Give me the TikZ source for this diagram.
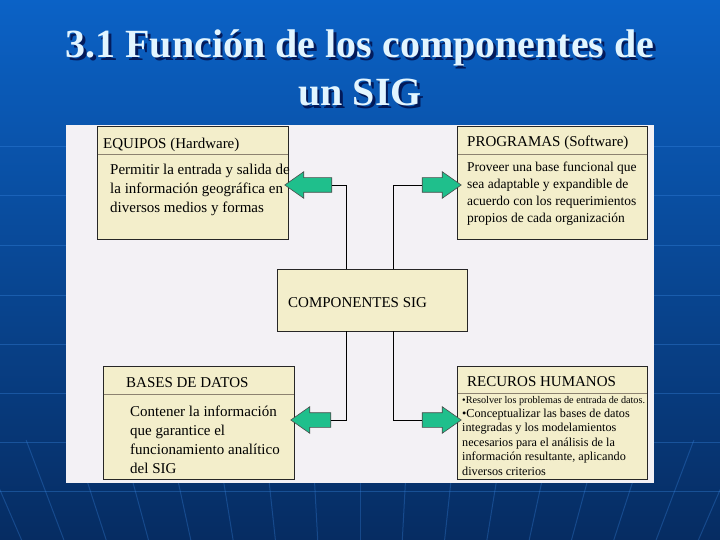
\documentclass[tikz,border=0pt]{standalone}
\usepackage{fontspec}
\setmainfont{Liberation Serif}
\usetikzlibrary{shapes.arrows}
\definecolor{bgtop}{HTML}{0B62C6}
\definecolor{bgmid}{HTML}{0950A6}
\definecolor{bgbot}{HTML}{062C62}
\definecolor{gridcol}{HTML}{3C8AE6}
\definecolor{panelcol}{HTML}{F3F1F5}
\definecolor{cream}{HTML}{F3EECB}
\definecolor{divcol}{HTML}{8C8270}
\definecolor{arrowcol}{HTML}{1FBF8C}
\definecolor{titlecol}{HTML}{E2F5FF}
\begin{document}
\begin{tikzpicture}[x=1pt,y=-1pt,
  box/.style={draw=black!85,line width=0.8pt,fill=cream,inner sep=0pt,outer sep=0pt,anchor=north west},
  divider/.style={draw=divcol,line width=0.9pt},
  head/.style={anchor=base west,inner sep=0pt,font=\fontsize{15}{18}\selectfont},
  body/.style={anchor=base west,inner sep=0pt,align=left},
  blockarrow/.style={single arrow,draw=black!70,line width=0.6pt,fill=arrowcol,inner xsep=0pt,inner ysep=7pt,
     single arrow head extend=6pt,single arrow tip angle=70,minimum height=40pt,outer sep=0pt},
  conn/.style={draw=black,line width=0.8pt},
  gridline/.style={draw=gridcol,line width=1pt,opacity=0.35},
  titlefont/.style={font=\fontsize{40}{48}\selectfont\bfseries,align=center,inner sep=0pt,anchor=base}]
\useasboundingbox (0,0) rectangle (720,540);
% background
\shade[top color=bgtop,middle color=bgmid,bottom color=bgbot] (0,0) rectangle (720,540);
\foreach \yy in {147,196,245,295,344,393,442,491}
  \draw[gridline] (0,\yy) -- (720,\yy);
\foreach \k in {-9,...,9}
  \draw[gridline,opacity=0.3] ({360+47.7*\k},440) -- ({360+42.3*\k},540);
% title (base anchor = baseline of the last line)
\node[titlefont,text=black!80!blue,opacity=0.7] (tshadow) at (362.5,108.5) {3.1 Función de los componentes de\\un SIG};
\node[titlefont,text=titlecol] (title) at (360,106) {3.1 Función de los componentes de\\un SIG};
% panel
\fill[panelcol] (66,125) rectangle (654,483);
% boxes
\node[box,minimum width=191pt,minimum height=113pt] (eq) at (97,126) {};
\node[box,minimum width=190pt,minimum height=113pt] (prog) at (457,126) {};
\node[box,minimum width=190pt,minimum height=62pt] (comp) at (277,269) {};
\node[box,minimum width=191pt,minimum height=113pt] (bd) at (103,366) {};
\node[box,minimum width=190pt,minimum height=113pt] (rh) at (457,366) {};
\draw[divider] (97.5,154) -- (287.5,154);
\draw[divider] (457.5,154) -- (646.5,154);
\draw[divider] (103.5,394) -- (293.5,394);
\draw[divider] (457.5,393) -- (646.5,393);
% texts
\node[head] (eqh) at (103,149) {EQUIPOS (Hardware)};
\node[body,font=\fontsize{15}{19}\selectfont] (eqb) at (110,213)
  {Permitir la entrada y salida de\\la información geográfica en\\diversos medios y formas};
\node[head] (progh) at (467,147) {PROGRAMAS (Software)};
\node[body,font=\fontsize{13.5}{16.7}\selectfont] (progb) at (467,222.1)
  {Proveer una base funcional que\\sea adaptable y expandible de\\acuerdo con los requerimientos\\propios de cada organización};
\node[head] (comph) at (288,307) {COMPONENTES SIG};
\node[head] (bdh) at (126,387) {BASES DE DATOS};
\node[body,font=\fontsize{15}{19}\selectfont] (bdb) at (130,473)
  {Contener la información\\que garantice el\\funcionamiento analítico\\del SIG};
\node[head] (rhh) at (467,386) {RECUROS HUMANOS};
\node[body,font=\fontsize{10.2}{12}\selectfont] (rhb1) at (462,403)
  {•Resolver los problemas de entrada de datos.};
\node[body,font=\fontsize{12.2}{14.6}\selectfont] (rhb2) at (462,475.4)
  {•Conceptualizar las bases de datos\\integradas y los modelamientos\\necesarios para el análisis de la\\información resultante, aplicando\\diversos criterios};
% arrows
\node[blockarrow,shape border rotate=180,minimum height=47pt] (a1) at (313.5,185) {};
\node[blockarrow,minimum height=39pt] (a2) at (436.5,185) {};
\node[blockarrow,shape border rotate=180] (a3) at (316,420) {};
\node[blockarrow,minimum height=39pt] (a4) at (436.5,420) {};
% connectors
\coordinate (lt) at (346,185);
\coordinate (lb) at (346,420);
\coordinate (rt) at (393,185);
\coordinate (rb) at (393,420);
\draw[conn] (a1.tail) -- (lt) -- (lt |- comp.north);
\draw[conn] (lb |- comp.south) -- (lb) -- (a3.tail);
\draw[conn] (rt |- comp.north) -- (rt) -- (a2.tail);
\draw[conn] (rb |- comp.south) -- (rb) -- (a4.tail);
\end{tikzpicture}
\end{document}
